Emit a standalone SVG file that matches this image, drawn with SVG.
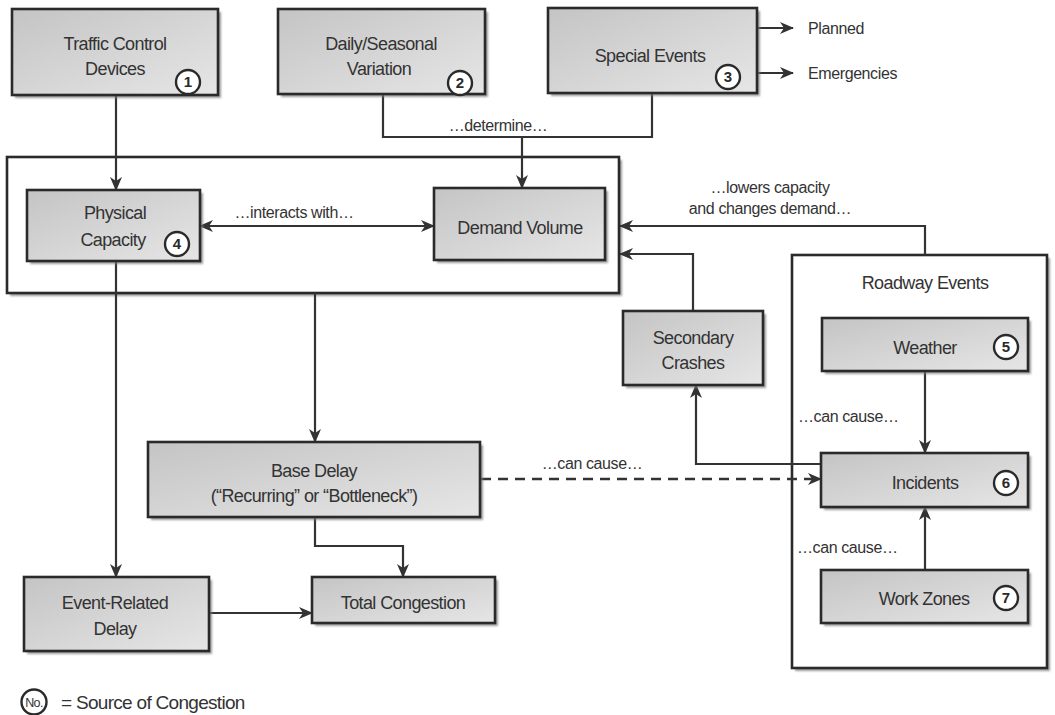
<svg xmlns="http://www.w3.org/2000/svg" width="1055" height="715" viewBox="0 0 1055 715">
<style>
  text { font-family: "Liberation Sans", Arial, sans-serif; fill: #333; }
  .lbl { font-size: 18px; letter-spacing: -0.6px; text-anchor: middle; }
  .note { font-size: 16px; letter-spacing: -0.4px; }
  .box { fill: url(#g); stroke: #2a2a2a; stroke-width: 2.6; }
  .frame { fill: #fff; stroke: #2a2a2a; stroke-width: 2.6; }
  .sh { fill: #7a7a7a; opacity: 0.75; filter: url(#blur); }
  .num { fill: #fff; stroke: #2a2a2a; stroke-width: 2.4; }
  .numt { font-size: 15px; font-weight: bold; text-anchor: middle; fill: #2a2a2a; }
  .c { fill: none; stroke: #333; stroke-width: 2.2; }
  .arr { marker-end: url(#ah); }
  .dash { stroke-dasharray: 10 7; stroke-width: 2.6; }
</style>
<defs>
  <linearGradient id="g" x1="0" y1="0" x2="1" y2="1">
    <stop offset="0" stop-color="#c4c4c4"/>
    <stop offset="1" stop-color="#e6e6e6"/>
  </linearGradient>
  <filter id="blur" x="-5%" y="-5%" width="110%" height="110%">
    <feGaussianBlur stdDeviation="1.2"/>
  </filter>
  <marker id="ah" viewBox="0 0 14 12" refX="13" refY="6" markerWidth="14" markerHeight="12" markerUnits="userSpaceOnUse" orient="auto-start-reverse">
    <path d="M0,0 L14,6 L0,12 L4,6 Z" fill="#333"/>
  </marker>
</defs>
<rect width="1055" height="715" fill="#fff"/>

<!-- containers -->
<g id="container-main">
  <rect class="sh" x="10" y="160" width="612" height="136"/>
  <rect class="frame" x="7" y="157" width="612" height="136"/>
</g>
<g id="container-roadway">
  <rect class="sh" x="795" y="258" width="255" height="413"/>
  <rect class="frame" x="792" y="255" width="255" height="413"/>
  <text class="lbl" x="925" y="289">Roadway Events</text>
</g>

<!-- connectors -->
<g id="connectors">
  <line class="c arr" x1="757" y1="28" x2="793" y2="28"/>
  <line class="c arr" x1="757" y1="73" x2="793" y2="73"/>
  <line class="c arr" x1="116" y1="95" x2="116" y2="190"/>
  <polyline class="c" points="383,94 383,137 652,137 652,93"/>
  <line class="c arr" x1="522" y1="137" x2="522" y2="188"/>
  <line class="c arr" x1="200" y1="226" x2="434" y2="226" marker-start="url(#ah)"/>
  <polyline class="c arr" points="925,255 925,226 620,226"/>
  <polyline class="c arr" points="693,311 693,254 620,254"/>
  <polyline class="c arr" points="821,464 696,464 696,385"/>
  <line class="c arr" x1="925" y1="371" x2="925" y2="453"/>
  <line class="c arr" x1="925" y1="570" x2="925" y2="507"/>
  <line class="c arr dash" x1="481" y1="479" x2="821" y2="479"/>
  <line class="c arr" x1="116" y1="261" x2="116" y2="577"/>
  <line class="c arr" x1="315" y1="293" x2="315" y2="442"/>
  <polyline class="c arr" points="315,517 315,546 403,546 403,577"/>
  <line class="c arr" x1="209" y1="613" x2="312" y2="613"/>
  <text class="note" x="498" y="131" text-anchor="middle">…determine…</text>
  <text class="note" x="294" y="218" text-anchor="middle">…interacts with…</text>
  <text class="note" x="770" y="193" text-anchor="middle">…lowers capacity</text>
  <text class="note" x="770" y="214" text-anchor="middle">and changes demand…</text>
  <text class="note" x="592" y="469" text-anchor="middle">…can cause…</text>
  <text class="note" x="798" y="422">…can cause…</text>
  <text class="note" x="797" y="553">…can cause…</text>
  <text class="note" x="808" y="34">Planned</text>
  <text class="note" x="808" y="79">Emergencies</text>
</g>

<!-- nodes -->
<g id="node-traffic-control">
  <rect class="sh" x="15" y="12" width="206" height="86"/>
  <rect class="box" x="12" y="9" width="206" height="86"/>
  <text class="lbl" x="115" y="50">Traffic Control</text>
  <text class="lbl" x="115" y="75">Devices</text>
  <circle class="num" cx="188" cy="82" r="12"/>
  <text class="numt" x="188" y="87">1</text>
</g>
<g id="node-daily-seasonal">
  <rect class="sh" x="281" y="12" width="207" height="85"/>
  <rect class="box" x="278" y="9" width="207" height="85"/>
  <text class="lbl" x="381" y="50">Daily/Seasonal</text>
  <text class="lbl" x="379" y="75">Variation</text>
  <circle class="num" cx="460" cy="83" r="12"/>
  <text class="numt" x="460" y="88">2</text>
</g>
<g id="node-special-events">
  <rect class="sh" x="551" y="11" width="209" height="85"/>
  <rect class="box" x="548" y="8" width="209" height="85"/>
  <text class="lbl" x="650" y="62">Special Events</text>
  <circle class="num" cx="728" cy="77" r="12"/>
  <text class="numt" x="728" y="82">3</text>
</g>
<g id="node-physical-capacity">
  <rect class="sh" x="30" y="193" width="173" height="71"/>
  <rect class="box" x="27" y="190" width="173" height="71"/>
  <text class="lbl" x="115" y="219">Physical</text>
  <text class="lbl" x="113" y="246">Capacity</text>
  <circle class="num" cx="177" cy="244" r="12"/>
  <text class="numt" x="177" y="249">4</text>
</g>
<g id="node-demand-volume">
  <rect class="sh" x="437" y="191" width="171" height="72"/>
  <rect class="box" x="434" y="188" width="171" height="72"/>
  <text class="lbl" x="520" y="234">Demand Volume</text>
</g>
<g id="node-secondary-crashes">
  <rect class="sh" x="626" y="314" width="140" height="74"/>
  <rect class="box" x="623" y="311" width="140" height="74"/>
  <text class="lbl" x="693" y="344">Secondary</text>
  <text class="lbl" x="693" y="369">Crashes</text>
</g>
<g id="node-weather">
  <rect class="sh" x="825" y="321" width="206" height="53"/>
  <rect class="box" x="822" y="318" width="206" height="53"/>
  <text class="lbl" x="925" y="354">Weather</text>
  <circle class="num" cx="1006" cy="347" r="12"/>
  <text class="numt" x="1006" y="352">5</text>
</g>
<g id="node-incidents">
  <rect class="sh" x="824" y="456" width="207" height="54"/>
  <rect class="box" x="821" y="453" width="207" height="54"/>
  <text class="lbl" x="925" y="489">Incidents</text>
  <circle class="num" cx="1006" cy="483" r="12"/>
  <text class="numt" x="1006" y="488">6</text>
</g>
<g id="node-work-zones">
  <rect class="sh" x="824" y="573" width="207" height="53"/>
  <rect class="box" x="821" y="570" width="207" height="53"/>
  <text class="lbl" x="924" y="605">Work Zones</text>
  <circle class="num" cx="1006" cy="598" r="12"/>
  <text class="numt" x="1006" y="603">7</text>
</g>
<g id="node-base-delay">
  <rect class="sh" x="151" y="445" width="332" height="75"/>
  <rect class="box" x="148" y="442" width="332" height="75"/>
  <text class="lbl" x="314" y="477">Base Delay</text>
  <text class="lbl" x="314" y="502">(“Recurring” or “Bottleneck”)</text>
</g>
<g id="node-event-related-delay">
  <rect class="sh" x="27" y="580" width="185" height="74"/>
  <rect class="box" x="24" y="577" width="185" height="74"/>
  <text class="lbl" x="115" y="609">Event-Related</text>
  <text class="lbl" x="115" y="635">Delay</text>
</g>
<g id="node-total-congestion">
  <rect class="sh" x="315" y="580" width="183" height="46"/>
  <rect class="box" x="312" y="577" width="183" height="46"/>
  <text class="lbl" x="403" y="609">Total Congestion</text>
</g>
<g id="legend">
  <circle class="num" cx="34" cy="702" r="12.5" stroke-width="2"/>
  <text x="34" y="706.5" font-size="12.5" letter-spacing="-0.6" text-anchor="middle">No.</text>
  <text x="61" y="709" font-size="19" letter-spacing="-0.7">= Source of Congestion</text>
</g>
</svg>
